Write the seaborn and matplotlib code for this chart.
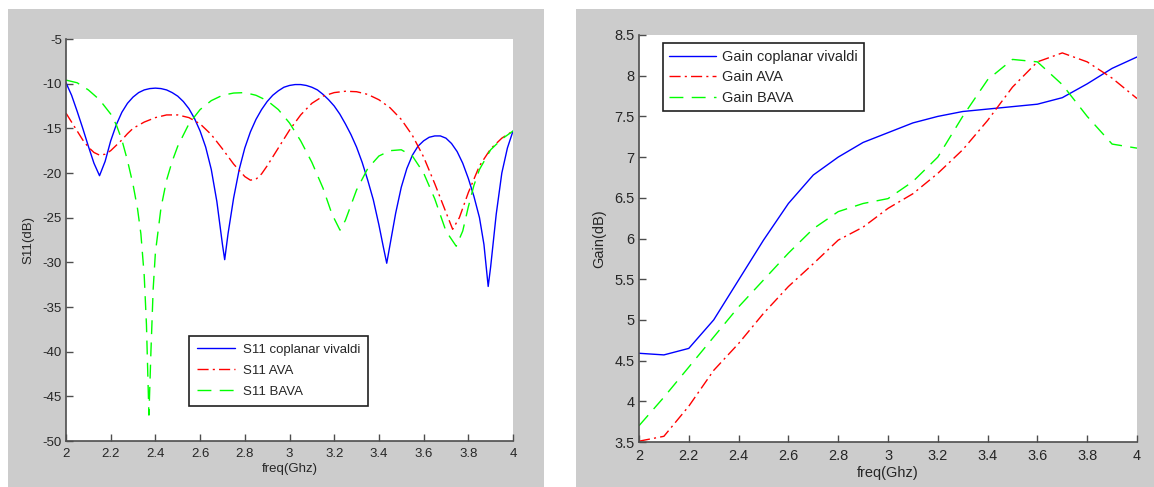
import numpy as np
import pandas as pd
import matplotlib
matplotlib.use("Agg")
import matplotlib.pyplot as plt
from matplotlib.patches import Rectangle
from matplotlib.ticker import FuncFormatter
import seaborn as sns

# ---------------- data: S11 (left panel) ----------------
s11_cpv_f = [2.00, 2.025, 2.05, 2.075, 2.10, 2.125, 2.15, 2.175, 2.20, 2.225, 2.25, 2.275, 2.30, 2.325,
             2.35, 2.375, 2.40, 2.425, 2.45, 2.475, 2.50, 2.525, 2.55, 2.575, 2.60, 2.625, 2.65, 2.675,
             2.70, 2.71, 2.725, 2.75, 2.775, 2.80, 2.825, 2.85, 2.875, 2.90, 2.925, 2.95, 2.975, 3.00,
             3.025, 3.05, 3.075, 3.10, 3.125, 3.15, 3.175, 3.20, 3.225, 3.25, 3.275, 3.30, 3.325, 3.35,
             3.375, 3.40, 3.42, 3.435, 3.45, 3.475, 3.50, 3.525, 3.55, 3.575, 3.60, 3.625, 3.65, 3.675,
             3.70, 3.725, 3.75, 3.775, 3.80, 3.825, 3.85, 3.87, 3.889, 3.90, 3.925, 3.95, 3.975, 4.00]
s11_cpv_db = [-9.9, -11.3, -13.1, -15.0, -17.0, -18.9, -20.3, -18.7, -16.4, -14.6, -13.2, -12.2, -11.5, -11.0,
              -10.7, -10.55, -10.5, -10.55, -10.7, -11.0, -11.4, -12.0, -12.8, -13.9, -15.3, -17.1, -19.6, -23.2,
              -28.0, -29.7, -26.8, -22.8, -19.6, -17.2, -15.4, -14.0, -12.9, -12.0, -11.3, -10.8, -10.4, -10.2,
              -10.1, -10.1, -10.2, -10.4, -10.7, -11.2, -11.8, -12.5, -13.4, -14.5, -15.7, -17.1, -18.8, -20.8,
              -23.0, -25.8, -28.3, -30.1, -28.0, -24.5, -21.6, -19.5, -18.0, -17.0, -16.4, -16.0, -15.85, -15.85,
              -16.1, -16.7, -17.6, -18.9, -20.6, -22.6, -25.0, -28.0, -32.7, -30.5, -24.6, -20.0, -17.2, -15.3]

s11_ava_f = [2.00, 2.025, 2.05, 2.075, 2.10, 2.125, 2.15, 2.175, 2.20, 2.225, 2.25, 2.275, 2.30, 2.35,
             2.40, 2.45, 2.50, 2.55, 2.60, 2.65, 2.70, 2.75, 2.80, 2.825, 2.85, 2.875, 2.90, 2.95,
             3.00, 3.05, 3.10, 3.15, 3.20, 3.25, 3.30, 3.35, 3.40, 3.45, 3.50, 3.55, 3.60, 3.65,
             3.70, 3.73, 3.76, 3.80, 3.85, 3.90, 3.95, 4.00]
s11_ava_db = [-13.3, -14.3, -15.3, -16.3, -17.1, -17.7, -18.0, -17.9, -17.5, -16.9, -16.3, -15.6, -15.0, -14.3,
              -13.8, -13.5, -13.5, -13.8, -14.5, -15.7, -17.3, -19.0, -20.4, -20.8, -20.7, -20.1, -19.2, -17.2,
              -15.2, -13.5, -12.2, -11.4, -11.0, -10.85, -10.9, -11.2, -11.8, -12.7, -14.0, -15.8, -18.2, -21.2,
              -24.4, -26.3, -25.0, -22.2, -19.2, -17.3, -16.1, -15.3]

s11_bava_f = [2.00, 2.05, 2.10, 2.15, 2.20, 2.225, 2.25, 2.275, 2.30, 2.32, 2.335, 2.35, 2.36, 2.371,
              2.38, 2.39, 2.40, 2.425, 2.45, 2.475, 2.50, 2.55, 2.60, 2.65, 2.70, 2.75, 2.80, 2.85,
              2.90, 2.95, 3.00, 3.05, 3.10, 3.15, 3.19, 3.226, 3.25, 3.275, 3.30, 3.35, 3.40, 3.45,
              3.50, 3.55, 3.60, 3.65, 3.70, 3.746, 3.775, 3.80, 3.825, 3.85, 3.90, 3.95, 4.00]
s11_bava_db = [-9.6, -9.9, -10.7, -11.8, -13.4, -14.6, -16.3, -18.6, -21.3, -24.0, -26.8, -31.5, -37.0, -47.1,
               -40.0, -33.0, -28.9, -23.9, -20.8, -18.7, -17.0, -14.5, -12.9, -11.9, -11.3, -11.05, -11.0, -11.3,
               -11.9, -12.9, -14.4, -16.4, -18.8, -21.7, -24.6, -26.4, -25.3, -23.6, -21.9, -19.5, -18.1, -17.5,
               -17.4, -18.1, -20.0, -22.9, -26.5, -28.2, -26.5, -23.8, -21.4, -19.6, -17.4, -16.2, -15.3]

# ---------------- data: Gain (right panel) ----------------
gain_f = [2.0, 2.1, 2.2, 2.3, 2.4, 2.5, 2.6, 2.7, 2.8, 2.9, 3.0, 3.1, 3.2, 3.3, 3.4, 3.5, 3.6, 3.7, 3.8, 3.9, 4.0]
gain_cpv = [4.59, 4.57, 4.65, 5.00, 5.49, 5.98, 6.43, 6.78, 7.00, 7.18, 7.30, 7.42, 7.50, 7.56, 7.59, 7.62, 7.65, 7.73, 7.90, 8.09, 8.23]
gain_ava = [3.51, 3.57, 3.94, 4.38, 4.71, 5.08, 5.41, 5.69, 5.98, 6.14, 6.37, 6.55, 6.80, 7.09, 7.45, 7.86, 8.17, 8.28, 8.17, 7.97, 7.72]
gain_bava = [3.70, 4.05, 4.42, 4.79, 5.16, 5.49, 5.82, 6.12, 6.33, 6.43, 6.49, 6.70, 7.00, 7.50, 7.95, 8.20, 8.17, 7.89, 7.50, 7.16, 7.11]

s11_labels = ["S11 coplanar vivaldi", "S11 AVA", "S11 BAVA"]
gain_labels = ["Gain coplanar vivaldi", "Gain AVA", "Gain BAVA"]
s11_yticks = [-50, -45, -40, -35, -30, -25, -20, -15, -10, -5]
gain_yticks = [3.5, 4, 4.5, 5, 5.5, 6, 6.5, 7, 7.5, 8, 8.5]
x_ticks = [2, 2.2, 2.4, 2.6, 2.8, 3, 3.2, 3.4, 3.6, 3.8, 4]

# ---------------- styling ----------------
sns.set_style("white")
plt.rcParams["font.family"] = ["Liberation Sans", "DejaVu Sans"]

W, H = 1154, 487
fig = plt.figure(figsize=(W / 100, H / 100), dpi=100, facecolor="white")

GRAY = "#cccccc"
fig.patches.append(Rectangle((8 / W, 0), 536 / W, 478 / H, transform=fig.transFigure,
                             facecolor=GRAY, edgecolor="none", zorder=-10))
fig.patches.append(Rectangle((576 / W, 0), 578 / W, 478 / H, transform=fig.transFigure,
                             facecolor=GRAY, edgecolor="none", zorder=-10))

ax1 = fig.add_axes([66 / W, 1 - 441 / H, 447 / W, 402 / H])
ax2 = fig.add_axes([639 / W, 1 - 442 / H, 498 / W, 407 / H])

BLUE, RED, GREEN = "#0000ff", "#ff0000", "#00ff00"
ls_solid = "-"
ls_dashdot = (0, (8, 3, 1.5, 3))
ls_dash = (0, (10, 6))
LW = 1.0


def draw(ax, f_list, y_list, labels):
    styles = [(BLUE, ls_solid), (RED, ls_dashdot), (GREEN, ls_dash)]
    for (f, y), lab, (c, ls) in zip(zip(f_list, y_list), labels, styles):
        df = pd.DataFrame({"f": f, "v": y})
        sns.lineplot(data=df, x="f", y="v", ax=ax, color=c, linestyle=ls,
                     linewidth=LW, label=lab, errorbar=None, sort=True)


draw(ax1, [s11_cpv_f, s11_ava_f, s11_bava_f], [s11_cpv_db, s11_ava_db, s11_bava_db], s11_labels)
draw(ax2, [gain_f, gain_f, gain_f], [gain_cpv, gain_ava, gain_bava], gain_labels)

fmt = FuncFormatter(lambda v, p: "%g" % v)
TXT = "#262626"
SPINE = "#4d4d4d"


def style_axes(ax, ylim, yticks, ylabel, fs):
    ax.set_facecolor("white")
    ax.set_xlim(2, 4)
    ax.set_ylim(*ylim)
    ax.set_xticks(x_ticks)
    ax.set_yticks(yticks)
    ax.xaxis.set_major_formatter(fmt)
    ax.yaxis.set_major_formatter(fmt)
    for s in ["top", "right"]:
        ax.spines[s].set_visible(False)
    for s in ["left", "bottom"]:
        ax.spines[s].set_color(SPINE)
        ax.spines[s].set_linewidth(1.2)
    ax.tick_params(axis="both", direction="in", length=5, width=1, color=SPINE,
                   labelsize=fs, labelcolor=TXT, left=True, bottom=True, top=False, right=False)
    ax.tick_params(axis="x", pad=5)
    ax.tick_params(axis="y", pad=3)
    ax.set_xlabel("freq(Ghz)", fontsize=fs, color=TXT, labelpad=2)
    ax.set_ylabel(ylabel, fontsize=fs, color=TXT, labelpad=6)


fs1 = 13.2 * 0.72
fs2 = 14.5 * 0.72
style_axes(ax1, (-50, -5), s11_yticks, "S11(dB)", fs1)
style_axes(ax2, (3.5, 8.5), gain_yticks, "Gain(dB)", fs2)

leg1 = ax1.legend(loc="lower left", bbox_to_anchor=(0.275, 0.087), fontsize=fs1,
                  frameon=True, fancybox=False, shadow=False, framealpha=1,
                  edgecolor="#202020", handlelength=2.9, handletextpad=0.6,
                  labelspacing=0.68, borderpad=0.6, borderaxespad=0)
leg1.get_frame().set_linewidth(1.2)
for t in leg1.get_texts():
    t.set_color(TXT)

leg2 = ax2.legend(loc="upper left", bbox_to_anchor=(0.048, 0.98), fontsize=fs2,
                  frameon=True, fancybox=False, shadow=False, framealpha=1,
                  edgecolor="#202020", handlelength=3.2, handletextpad=0.4,
                  labelspacing=0.45, borderpad=0.45, borderaxespad=0)
leg2.get_frame().set_linewidth(1.2)
for t in leg2.get_texts():
    t.set_color(TXT)

fig.savefig("out.png", dpi=100, facecolor="white")
